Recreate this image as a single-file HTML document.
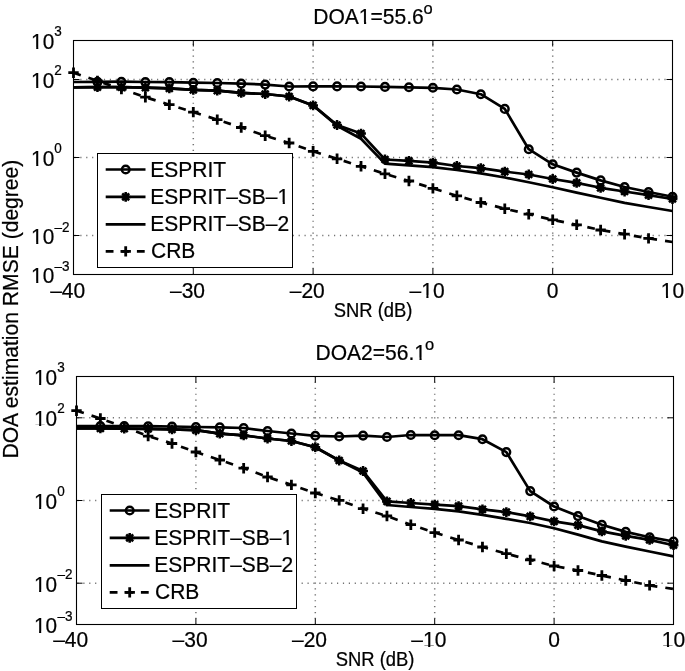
<!DOCTYPE html>
<html><head><meta charset="utf-8"><style>
html,body{margin:0;padding:0;background:#fff;}
svg{display:block;font-family:"Liberation Sans",sans-serif;will-change:transform;}
text{stroke:#000;stroke-width:0.22px;}
</style></head><body>
<svg width="685" height="671" viewBox="0 0 685 671">
<rect width="685" height="671" fill="#fff"/>
<g stroke="#000" stroke-width="1.5" stroke-dasharray="1.2 4.7" opacity="0.55"><line x1="193.3" y1="274.5" x2="193.3" y2="40.5" stroke-dashoffset="0.45"/><line x1="313.1" y1="274.5" x2="313.1" y2="40.5" stroke-dashoffset="0.45"/><line x1="432.9" y1="274.5" x2="432.9" y2="40.5" stroke-dashoffset="0.45"/><line x1="552.7" y1="274.5" x2="552.7" y2="40.5" stroke-dashoffset="0.45"/><line x1="73.5" y1="79.5" x2="672.5" y2="79.5" stroke-dashoffset="-0.9"/><line x1="73.5" y1="157.5" x2="672.5" y2="157.5" stroke-dashoffset="-0.9"/><line x1="73.5" y1="235.5" x2="672.5" y2="235.5" stroke-dashoffset="-0.9"/></g>
<path d="M193.3,274.5v-6M193.3,40.5v6M313.1,274.5v-6M313.1,40.5v6M432.9,274.5v-6M432.9,40.5v6M552.7,274.5v-6M552.7,40.5v6M73.5,79.5h6M672.5,79.5h-6M73.5,157.5h6M672.5,157.5h-6M73.5,235.5h6M672.5,235.5h-6" stroke="#000" stroke-width="1" fill="none"/>
<polyline points="73.50,87.30 97.46,87.20 121.42,87.20 145.38,87.70 169.34,88.30 193.30,89.80 217.26,90.70 241.22,92.90 265.18,94.00 289.14,96.50 313.10,105.40 337.06,125.80 361.02,138.80 384.98,163.60 408.94,165.30 432.90,167.20 456.86,170.00 480.82,173.30 504.78,177.50 528.74,182.20 552.70,187.30 576.66,192.60 600.62,197.80 624.58,202.90 648.54,207.00 672.50,211.00" fill="none" stroke="#000" stroke-width="2.7" stroke-linejoin="round" />
<polyline points="73.50,72.70 97.46,80.90 121.42,89.00 145.38,97.20 169.34,104.70 193.30,112.10 217.26,119.60 241.22,127.50 265.18,135.70 289.14,143.00 313.10,151.30 337.06,158.80 361.02,166.30 384.98,173.80 408.94,181.00 432.90,188.40 456.86,195.80 480.82,202.50 504.78,208.70 528.74,214.20 552.70,219.80 576.66,224.80 600.62,230.00 624.58,234.20 648.54,238.40 672.50,242.00" fill="none" stroke="#000" stroke-width="2.7" stroke-linejoin="round" stroke-dasharray="7.7 8.09" stroke-linejoin="miter" stroke-linecap="butt"/>
<polyline points="73.50,87.30 97.46,87.20 121.42,87.20 145.38,87.70 169.34,88.30 193.30,89.80 217.26,90.70 241.22,92.90 265.18,94.00 289.14,96.50 313.10,105.40 337.06,125.00 361.02,133.60 384.98,159.50 408.94,160.80 432.90,162.60 456.86,166.00 480.82,168.20 504.78,171.60 528.74,174.50 552.70,179.00 576.66,182.90 600.62,187.80 624.58,191.50 648.54,195.10 672.50,199.00" fill="none" stroke="#000" stroke-width="2.7" stroke-linejoin="round" />
<polyline points="73.50,82.00 97.46,81.80 121.42,81.70 145.38,82.00 169.34,82.10 193.30,82.70 217.26,83.00 241.22,83.60 265.18,84.60 289.14,86.50 313.10,86.40 337.06,86.40 361.02,86.50 384.98,86.90 408.94,87.30 432.90,87.80 456.86,89.50 480.82,94.20 504.78,108.90 528.74,149.20 552.70,164.30 576.66,172.60 600.62,180.40 624.58,187.00 648.54,192.00 672.50,196.70" fill="none" stroke="#000" stroke-width="2.7" stroke-linejoin="round" />
<path d="M68.30,72.70h10.40M73.50,67.50v10.40" stroke="#000" stroke-width="2.8" fill="none"/>
<path d="M92.26,80.90h10.40M97.46,75.70v10.40" stroke="#000" stroke-width="2.8" fill="none"/>
<path d="M116.22,89.00h10.40M121.42,83.80v10.40" stroke="#000" stroke-width="2.8" fill="none"/>
<path d="M140.18,97.20h10.40M145.38,92.00v10.40" stroke="#000" stroke-width="2.8" fill="none"/>
<path d="M164.14,104.70h10.40M169.34,99.50v10.40" stroke="#000" stroke-width="2.8" fill="none"/>
<path d="M188.10,112.10h10.40M193.30,106.90v10.40" stroke="#000" stroke-width="2.8" fill="none"/>
<path d="M212.06,119.60h10.40M217.26,114.40v10.40" stroke="#000" stroke-width="2.8" fill="none"/>
<path d="M236.02,127.50h10.40M241.22,122.30v10.40" stroke="#000" stroke-width="2.8" fill="none"/>
<path d="M259.98,135.70h10.40M265.18,130.50v10.40" stroke="#000" stroke-width="2.8" fill="none"/>
<path d="M283.94,143.00h10.40M289.14,137.80v10.40" stroke="#000" stroke-width="2.8" fill="none"/>
<path d="M307.90,151.30h10.40M313.10,146.10v10.40" stroke="#000" stroke-width="2.8" fill="none"/>
<path d="M331.86,158.80h10.40M337.06,153.60v10.40" stroke="#000" stroke-width="2.8" fill="none"/>
<path d="M355.82,166.30h10.40M361.02,161.10v10.40" stroke="#000" stroke-width="2.8" fill="none"/>
<path d="M379.78,173.80h10.40M384.98,168.60v10.40" stroke="#000" stroke-width="2.8" fill="none"/>
<path d="M403.74,181.00h10.40M408.94,175.80v10.40" stroke="#000" stroke-width="2.8" fill="none"/>
<path d="M427.70,188.40h10.40M432.90,183.20v10.40" stroke="#000" stroke-width="2.8" fill="none"/>
<path d="M451.66,195.80h10.40M456.86,190.60v10.40" stroke="#000" stroke-width="2.8" fill="none"/>
<path d="M475.62,202.50h10.40M480.82,197.30v10.40" stroke="#000" stroke-width="2.8" fill="none"/>
<path d="M499.58,208.70h10.40M504.78,203.50v10.40" stroke="#000" stroke-width="2.8" fill="none"/>
<path d="M523.54,214.20h10.40M528.74,209.00v10.40" stroke="#000" stroke-width="2.8" fill="none"/>
<path d="M547.50,219.80h10.40M552.70,214.60v10.40" stroke="#000" stroke-width="2.8" fill="none"/>
<path d="M571.46,224.80h10.40M576.66,219.60v10.40" stroke="#000" stroke-width="2.8" fill="none"/>
<path d="M595.42,230.00h10.40M600.62,224.80v10.40" stroke="#000" stroke-width="2.8" fill="none"/>
<path d="M619.38,234.20h10.40M624.58,229.00v10.40" stroke="#000" stroke-width="2.8" fill="none"/>
<path d="M643.34,238.40h10.40M648.54,233.20v10.40" stroke="#000" stroke-width="2.8" fill="none"/>
<path d="M92.56,87.20h9.80M97.46,82.30v9.80M94.00,83.74l6.93,6.93M94.00,90.66l6.93,-6.93" stroke="#000" stroke-width="2.5" fill="none"/><circle cx="97.46" cy="87.20" r="3.5"/>
<path d="M116.52,87.20h9.80M121.42,82.30v9.80M117.96,83.74l6.93,6.93M117.96,90.66l6.93,-6.93" stroke="#000" stroke-width="2.5" fill="none"/><circle cx="121.42" cy="87.20" r="3.5"/>
<path d="M140.48,87.70h9.80M145.38,82.80v9.80M141.92,84.24l6.93,6.93M141.92,91.16l6.93,-6.93" stroke="#000" stroke-width="2.5" fill="none"/><circle cx="145.38" cy="87.70" r="3.5"/>
<path d="M164.44,88.30h9.80M169.34,83.40v9.80M165.88,84.84l6.93,6.93M165.88,91.76l6.93,-6.93" stroke="#000" stroke-width="2.5" fill="none"/><circle cx="169.34" cy="88.30" r="3.5"/>
<path d="M188.40,89.80h9.80M193.30,84.90v9.80M189.84,86.34l6.93,6.93M189.84,93.26l6.93,-6.93" stroke="#000" stroke-width="2.5" fill="none"/><circle cx="193.30" cy="89.80" r="3.5"/>
<path d="M212.36,90.70h9.80M217.26,85.80v9.80M213.80,87.24l6.93,6.93M213.80,94.16l6.93,-6.93" stroke="#000" stroke-width="2.5" fill="none"/><circle cx="217.26" cy="90.70" r="3.5"/>
<path d="M236.32,92.90h9.80M241.22,88.00v9.80M237.76,89.44l6.93,6.93M237.76,96.36l6.93,-6.93" stroke="#000" stroke-width="2.5" fill="none"/><circle cx="241.22" cy="92.90" r="3.5"/>
<path d="M260.28,94.00h9.80M265.18,89.10v9.80M261.72,90.54l6.93,6.93M261.72,97.46l6.93,-6.93" stroke="#000" stroke-width="2.5" fill="none"/><circle cx="265.18" cy="94.00" r="3.5"/>
<path d="M284.24,96.50h9.80M289.14,91.60v9.80M285.68,93.04l6.93,6.93M285.68,99.96l6.93,-6.93" stroke="#000" stroke-width="2.5" fill="none"/><circle cx="289.14" cy="96.50" r="3.5"/>
<path d="M308.20,105.40h9.80M313.10,100.50v9.80M309.64,101.94l6.93,6.93M309.64,108.86l6.93,-6.93" stroke="#000" stroke-width="2.5" fill="none"/><circle cx="313.10" cy="105.40" r="3.5"/>
<path d="M332.16,125.00h9.80M337.06,120.10v9.80M333.60,121.54l6.93,6.93M333.60,128.46l6.93,-6.93" stroke="#000" stroke-width="2.5" fill="none"/><circle cx="337.06" cy="125.00" r="3.5"/>
<path d="M356.12,133.60h9.80M361.02,128.70v9.80M357.56,130.14l6.93,6.93M357.56,137.06l6.93,-6.93" stroke="#000" stroke-width="2.5" fill="none"/><circle cx="361.02" cy="133.60" r="3.5"/>
<path d="M380.08,159.50h9.80M384.98,154.60v9.80M381.52,156.04l6.93,6.93M381.52,162.96l6.93,-6.93" stroke="#000" stroke-width="2.5" fill="none"/><circle cx="384.98" cy="159.50" r="3.5"/>
<path d="M404.04,160.80h9.80M408.94,155.90v9.80M405.48,157.34l6.93,6.93M405.48,164.26l6.93,-6.93" stroke="#000" stroke-width="2.5" fill="none"/><circle cx="408.94" cy="160.80" r="3.5"/>
<path d="M428.00,162.60h9.80M432.90,157.70v9.80M429.44,159.14l6.93,6.93M429.44,166.06l6.93,-6.93" stroke="#000" stroke-width="2.5" fill="none"/><circle cx="432.90" cy="162.60" r="3.5"/>
<path d="M451.96,166.00h9.80M456.86,161.10v9.80M453.40,162.54l6.93,6.93M453.40,169.46l6.93,-6.93" stroke="#000" stroke-width="2.5" fill="none"/><circle cx="456.86" cy="166.00" r="3.5"/>
<path d="M475.92,168.20h9.80M480.82,163.30v9.80M477.36,164.74l6.93,6.93M477.36,171.66l6.93,-6.93" stroke="#000" stroke-width="2.5" fill="none"/><circle cx="480.82" cy="168.20" r="3.5"/>
<path d="M499.88,171.60h9.80M504.78,166.70v9.80M501.32,168.14l6.93,6.93M501.32,175.06l6.93,-6.93" stroke="#000" stroke-width="2.5" fill="none"/><circle cx="504.78" cy="171.60" r="3.5"/>
<path d="M523.84,174.50h9.80M528.74,169.60v9.80M525.28,171.04l6.93,6.93M525.28,177.96l6.93,-6.93" stroke="#000" stroke-width="2.5" fill="none"/><circle cx="528.74" cy="174.50" r="3.5"/>
<path d="M547.80,179.00h9.80M552.70,174.10v9.80M549.24,175.54l6.93,6.93M549.24,182.46l6.93,-6.93" stroke="#000" stroke-width="2.5" fill="none"/><circle cx="552.70" cy="179.00" r="3.5"/>
<path d="M571.76,182.90h9.80M576.66,178.00v9.80M573.20,179.44l6.93,6.93M573.20,186.36l6.93,-6.93" stroke="#000" stroke-width="2.5" fill="none"/><circle cx="576.66" cy="182.90" r="3.5"/>
<path d="M595.72,187.80h9.80M600.62,182.90v9.80M597.16,184.34l6.93,6.93M597.16,191.26l6.93,-6.93" stroke="#000" stroke-width="2.5" fill="none"/><circle cx="600.62" cy="187.80" r="3.5"/>
<path d="M619.68,191.50h9.80M624.58,186.60v9.80M621.12,188.04l6.93,6.93M621.12,194.96l6.93,-6.93" stroke="#000" stroke-width="2.5" fill="none"/><circle cx="624.58" cy="191.50" r="3.5"/>
<path d="M643.64,195.10h9.80M648.54,190.20v9.80M645.08,191.64l6.93,6.93M645.08,198.56l6.93,-6.93" stroke="#000" stroke-width="2.5" fill="none"/><circle cx="648.54" cy="195.10" r="3.5"/>
<path d="M667.60,199.00h9.80M672.50,194.10v9.80M669.04,195.54l6.93,6.93M669.04,202.46l6.93,-6.93" stroke="#000" stroke-width="2.5" fill="none"/><circle cx="672.50" cy="199.00" r="3.5"/>
<circle cx="97.46" cy="81.80" r="3.8" fill="none" stroke="#000" stroke-width="2.5"/>
<circle cx="121.42" cy="81.70" r="3.8" fill="none" stroke="#000" stroke-width="2.5"/>
<circle cx="145.38" cy="82.00" r="3.8" fill="none" stroke="#000" stroke-width="2.5"/>
<circle cx="169.34" cy="82.10" r="3.8" fill="none" stroke="#000" stroke-width="2.5"/>
<circle cx="193.30" cy="82.70" r="3.8" fill="none" stroke="#000" stroke-width="2.5"/>
<circle cx="217.26" cy="83.00" r="3.8" fill="none" stroke="#000" stroke-width="2.5"/>
<circle cx="241.22" cy="83.60" r="3.8" fill="none" stroke="#000" stroke-width="2.5"/>
<circle cx="265.18" cy="84.60" r="3.8" fill="none" stroke="#000" stroke-width="2.5"/>
<circle cx="289.14" cy="86.50" r="3.8" fill="none" stroke="#000" stroke-width="2.5"/>
<circle cx="313.10" cy="86.40" r="3.8" fill="none" stroke="#000" stroke-width="2.5"/>
<circle cx="337.06" cy="86.40" r="3.8" fill="none" stroke="#000" stroke-width="2.5"/>
<circle cx="361.02" cy="86.50" r="3.8" fill="none" stroke="#000" stroke-width="2.5"/>
<circle cx="384.98" cy="86.90" r="3.8" fill="none" stroke="#000" stroke-width="2.5"/>
<circle cx="408.94" cy="87.30" r="3.8" fill="none" stroke="#000" stroke-width="2.5"/>
<circle cx="432.90" cy="87.80" r="3.8" fill="none" stroke="#000" stroke-width="2.5"/>
<circle cx="456.86" cy="89.50" r="3.8" fill="none" stroke="#000" stroke-width="2.5"/>
<circle cx="480.82" cy="94.20" r="3.8" fill="none" stroke="#000" stroke-width="2.5"/>
<circle cx="504.78" cy="108.90" r="3.8" fill="none" stroke="#000" stroke-width="2.5"/>
<circle cx="528.74" cy="149.20" r="3.8" fill="none" stroke="#000" stroke-width="2.5"/>
<circle cx="552.70" cy="164.30" r="3.8" fill="none" stroke="#000" stroke-width="2.5"/>
<circle cx="576.66" cy="172.60" r="3.8" fill="none" stroke="#000" stroke-width="2.5"/>
<circle cx="600.62" cy="180.40" r="3.8" fill="none" stroke="#000" stroke-width="2.5"/>
<circle cx="624.58" cy="187.00" r="3.8" fill="none" stroke="#000" stroke-width="2.5"/>
<circle cx="648.54" cy="192.00" r="3.8" fill="none" stroke="#000" stroke-width="2.5"/>
<circle cx="672.50" cy="196.70" r="3.8" fill="none" stroke="#000" stroke-width="2.5"/>
<rect x="97.5" y="153.5" width="195" height="114" fill="#fff" stroke="#000" stroke-width="1"/>
<line x1="105.7" y1="169.5" x2="145.5" y2="169.5" stroke="#000" stroke-width="2.7"/>
<circle cx="125.70" cy="169.50" r="3.8" fill="none" stroke="#000" stroke-width="2.5"/>
<text transform="translate(150.37,176.50) scale(1,1.05)" font-size="21">ESPRIT</text>
<line x1="105.7" y1="196.9" x2="145.5" y2="196.9" stroke="#000" stroke-width="2.7"/>
<path d="M120.80,196.90h9.80M125.70,192.00v9.80M122.24,193.44l6.93,6.93M122.24,200.36l6.93,-6.93" stroke="#000" stroke-width="2.5" fill="none"/><circle cx="125.70" cy="196.90" r="3.5"/>
<text transform="translate(150.37,203.90) scale(1,1.05)" font-size="21">ESPRIT&#8211;SB&#8211;1</text>
<line x1="105.7" y1="224.3" x2="145.5" y2="224.3" stroke="#000" stroke-width="2.7"/>
<text transform="translate(150.37,231.30) scale(1,1.05)" font-size="21">ESPRIT&#8211;SB&#8211;2</text>
<line x1="105.7" y1="251.4" x2="145.5" y2="251.4" stroke="#000" stroke-width="2.7" stroke-dasharray="7.8 7.8"/>
<path d="M120.50,251.40h10.40M125.70,246.20v10.40" stroke="#000" stroke-width="2.8" fill="none"/>
<text transform="translate(151.05,258.40) scale(1,1.05)" font-size="21">CRB</text>
<rect x="73.5" y="40.5" width="599.0" height="234.0" fill="none" stroke="#000" stroke-width="1.1"/>
<text transform="translate(31.10,48.90) scale(1,1.05)" font-size="20.8">10<tspan dx="0.0" dy="-12.75" font-size="13.5">3</tspan></text>
<text transform="translate(31.10,87.90) scale(1,1.05)" font-size="20.8">10<tspan dx="0.0" dy="-12.75" font-size="13.5">2</tspan></text>
<text transform="translate(31.10,165.90) scale(1,1.05)" font-size="20.8">10<tspan dx="0.0" dy="-12.75" font-size="13.5">0</tspan></text>
<text transform="translate(31.10,243.90) scale(1,1.05)" font-size="20.8">10<tspan dx="0.3" dy="-11.8" font-size="13.5">&#8211;2</tspan></text>
<text transform="translate(31.10,282.90) scale(1,1.05)" font-size="20.8">10<tspan dx="0.3" dy="-11.8" font-size="13.5">&#8211;3</tspan></text>
<text transform="translate(85.18,297.50) scale(1,1.05)" font-size="21" text-anchor="end">&#8211;40</text>
<text transform="translate(204.98,297.50) scale(1,1.05)" font-size="21" text-anchor="end">&#8211;30</text>
<text transform="translate(324.78,297.50) scale(1,1.05)" font-size="21" text-anchor="end">&#8211;20</text>
<text transform="translate(444.58,297.50) scale(1,1.05)" font-size="21" text-anchor="end">&#8211;10</text>
<text transform="translate(558.54,297.50) scale(1,1.05)" font-size="21" text-anchor="end">0</text>
<text transform="translate(684.18,297.50) scale(1,1.05)" font-size="21" text-anchor="end">10</text>
<text transform="translate(313.26,23.80) scale(1,1.05)" font-size="21.05">DOA1=55.6</text>
<text transform="translate(423.40,14.40) scale(1,1.05)" font-size="16.5">o</text>
<text transform="translate(333.70,317.20) scale(1,1.05)" font-size="18.4">SNR (dB)</text>
<g stroke="#000" stroke-width="1.5" stroke-dasharray="1.2 4.7" opacity="0.55"><line x1="195.9" y1="624.5" x2="195.9" y2="376.5" stroke-dashoffset="0.45"/><line x1="315.3" y1="624.5" x2="315.3" y2="376.5" stroke-dashoffset="0.45"/><line x1="434.7" y1="624.5" x2="434.7" y2="376.5" stroke-dashoffset="0.45"/><line x1="554.1" y1="624.5" x2="554.1" y2="376.5" stroke-dashoffset="0.45"/><line x1="76.5" y1="417.8" x2="673.5" y2="417.8" stroke-dashoffset="-0.9"/><line x1="76.5" y1="500.5" x2="673.5" y2="500.5" stroke-dashoffset="-0.9"/><line x1="76.5" y1="583.2" x2="673.5" y2="583.2" stroke-dashoffset="-0.9"/></g>
<path d="M195.9,624.5v-6M195.9,376.5v6M315.3,624.5v-6M315.3,376.5v6M434.7,624.5v-6M434.7,376.5v6M554.1,624.5v-6M554.1,376.5v6M76.5,417.8h6M673.5,417.8h-6M76.5,500.5h6M673.5,500.5h-6M76.5,583.2h6M673.5,583.2h-6" stroke="#000" stroke-width="1" fill="none"/>
<polyline points="76.50,428.30 100.38,428.40 124.26,428.60 148.14,428.90 172.02,429.30 195.90,430.10 219.78,433.60 243.66,435.40 267.54,438.50 291.42,441.00 315.30,447.20 339.18,460.50 363.06,472.60 386.94,505.00 410.82,507.00 434.70,508.80 458.58,511.40 482.46,514.80 506.34,518.80 530.22,523.00 554.10,528.20 577.98,534.60 601.86,541.40 625.74,546.60 649.62,551.50 673.50,556.40" fill="none" stroke="#000" stroke-width="2.7" stroke-linejoin="round" />
<polyline points="76.50,410.70 100.38,418.50 124.26,427.00 148.14,436.10 172.02,443.50 195.90,452.00 219.78,460.00 243.66,468.20 267.54,477.00 291.42,484.90 315.30,493.00 339.18,500.40 363.06,508.70 386.94,516.00 410.82,524.70 434.70,532.60 458.58,540.00 482.46,547.00 506.34,553.70 530.22,559.90 554.10,566.00 577.98,570.50 601.86,575.50 625.74,580.50 649.62,585.40 673.50,589.00" fill="none" stroke="#000" stroke-width="2.7" stroke-linejoin="round" stroke-dasharray="7.7 8.09" stroke-linejoin="miter" stroke-linecap="butt"/>
<polyline points="76.50,428.30 100.38,428.40 124.26,428.60 148.14,428.90 172.02,429.30 195.90,430.10 219.78,433.60 243.66,435.40 267.54,438.50 291.42,441.00 315.30,447.20 339.18,460.50 363.06,471.00 386.94,501.40 410.82,503.00 434.70,504.60 458.58,506.10 482.46,509.30 506.34,512.20 530.22,516.30 554.10,521.40 577.98,525.10 601.86,531.40 625.74,535.90 649.62,539.90 673.50,545.20" fill="none" stroke="#000" stroke-width="2.7" stroke-linejoin="round" />
<polyline points="76.50,426.20 100.38,426.10 124.26,426.10 148.14,426.20 172.02,426.50 195.90,427.00 219.78,427.40 243.66,428.00 267.54,431.00 291.42,433.50 315.30,435.80 339.18,436.50 363.06,435.60 386.94,437.00 410.82,435.00 434.70,435.20 458.58,435.20 482.46,439.20 506.34,452.10 530.22,491.10 554.10,506.50 577.98,516.10 601.86,524.70 625.74,531.90 649.62,537.20 673.50,541.50" fill="none" stroke="#000" stroke-width="2.7" stroke-linejoin="round" />
<path d="M71.30,410.70h10.40M76.50,405.50v10.40" stroke="#000" stroke-width="2.8" fill="none"/>
<path d="M95.18,418.50h10.40M100.38,413.30v10.40" stroke="#000" stroke-width="2.8" fill="none"/>
<path d="M119.06,427.00h10.40M124.26,421.80v10.40" stroke="#000" stroke-width="2.8" fill="none"/>
<path d="M142.94,436.10h10.40M148.14,430.90v10.40" stroke="#000" stroke-width="2.8" fill="none"/>
<path d="M166.82,443.50h10.40M172.02,438.30v10.40" stroke="#000" stroke-width="2.8" fill="none"/>
<path d="M190.70,452.00h10.40M195.90,446.80v10.40" stroke="#000" stroke-width="2.8" fill="none"/>
<path d="M214.58,460.00h10.40M219.78,454.80v10.40" stroke="#000" stroke-width="2.8" fill="none"/>
<path d="M238.46,468.20h10.40M243.66,463.00v10.40" stroke="#000" stroke-width="2.8" fill="none"/>
<path d="M262.34,477.00h10.40M267.54,471.80v10.40" stroke="#000" stroke-width="2.8" fill="none"/>
<path d="M286.22,484.90h10.40M291.42,479.70v10.40" stroke="#000" stroke-width="2.8" fill="none"/>
<path d="M310.10,493.00h10.40M315.30,487.80v10.40" stroke="#000" stroke-width="2.8" fill="none"/>
<path d="M333.98,500.40h10.40M339.18,495.20v10.40" stroke="#000" stroke-width="2.8" fill="none"/>
<path d="M357.86,508.70h10.40M363.06,503.50v10.40" stroke="#000" stroke-width="2.8" fill="none"/>
<path d="M381.74,516.00h10.40M386.94,510.80v10.40" stroke="#000" stroke-width="2.8" fill="none"/>
<path d="M405.62,524.70h10.40M410.82,519.50v10.40" stroke="#000" stroke-width="2.8" fill="none"/>
<path d="M429.50,532.60h10.40M434.70,527.40v10.40" stroke="#000" stroke-width="2.8" fill="none"/>
<path d="M453.38,540.00h10.40M458.58,534.80v10.40" stroke="#000" stroke-width="2.8" fill="none"/>
<path d="M477.26,547.00h10.40M482.46,541.80v10.40" stroke="#000" stroke-width="2.8" fill="none"/>
<path d="M501.14,553.70h10.40M506.34,548.50v10.40" stroke="#000" stroke-width="2.8" fill="none"/>
<path d="M525.02,559.90h10.40M530.22,554.70v10.40" stroke="#000" stroke-width="2.8" fill="none"/>
<path d="M548.90,566.00h10.40M554.10,560.80v10.40" stroke="#000" stroke-width="2.8" fill="none"/>
<path d="M572.78,570.50h10.40M577.98,565.30v10.40" stroke="#000" stroke-width="2.8" fill="none"/>
<path d="M596.66,575.50h10.40M601.86,570.30v10.40" stroke="#000" stroke-width="2.8" fill="none"/>
<path d="M620.54,580.50h10.40M625.74,575.30v10.40" stroke="#000" stroke-width="2.8" fill="none"/>
<path d="M644.42,585.40h10.40M649.62,580.20v10.40" stroke="#000" stroke-width="2.8" fill="none"/>
<path d="M95.48,428.40h9.80M100.38,423.50v9.80M96.92,424.94l6.93,6.93M96.92,431.86l6.93,-6.93" stroke="#000" stroke-width="2.5" fill="none"/><circle cx="100.38" cy="428.40" r="3.5"/>
<path d="M119.36,428.60h9.80M124.26,423.70v9.80M120.80,425.14l6.93,6.93M120.80,432.06l6.93,-6.93" stroke="#000" stroke-width="2.5" fill="none"/><circle cx="124.26" cy="428.60" r="3.5"/>
<path d="M143.24,428.90h9.80M148.14,424.00v9.80M144.68,425.44l6.93,6.93M144.68,432.36l6.93,-6.93" stroke="#000" stroke-width="2.5" fill="none"/><circle cx="148.14" cy="428.90" r="3.5"/>
<path d="M167.12,429.30h9.80M172.02,424.40v9.80M168.56,425.84l6.93,6.93M168.56,432.76l6.93,-6.93" stroke="#000" stroke-width="2.5" fill="none"/><circle cx="172.02" cy="429.30" r="3.5"/>
<path d="M191.00,430.10h9.80M195.90,425.20v9.80M192.44,426.64l6.93,6.93M192.44,433.56l6.93,-6.93" stroke="#000" stroke-width="2.5" fill="none"/><circle cx="195.90" cy="430.10" r="3.5"/>
<path d="M214.88,433.60h9.80M219.78,428.70v9.80M216.32,430.14l6.93,6.93M216.32,437.06l6.93,-6.93" stroke="#000" stroke-width="2.5" fill="none"/><circle cx="219.78" cy="433.60" r="3.5"/>
<path d="M238.76,435.40h9.80M243.66,430.50v9.80M240.20,431.94l6.93,6.93M240.20,438.86l6.93,-6.93" stroke="#000" stroke-width="2.5" fill="none"/><circle cx="243.66" cy="435.40" r="3.5"/>
<path d="M262.64,438.50h9.80M267.54,433.60v9.80M264.08,435.04l6.93,6.93M264.08,441.96l6.93,-6.93" stroke="#000" stroke-width="2.5" fill="none"/><circle cx="267.54" cy="438.50" r="3.5"/>
<path d="M286.52,441.00h9.80M291.42,436.10v9.80M287.96,437.54l6.93,6.93M287.96,444.46l6.93,-6.93" stroke="#000" stroke-width="2.5" fill="none"/><circle cx="291.42" cy="441.00" r="3.5"/>
<path d="M310.40,447.20h9.80M315.30,442.30v9.80M311.84,443.74l6.93,6.93M311.84,450.66l6.93,-6.93" stroke="#000" stroke-width="2.5" fill="none"/><circle cx="315.30" cy="447.20" r="3.5"/>
<path d="M334.28,460.50h9.80M339.18,455.60v9.80M335.72,457.04l6.93,6.93M335.72,463.96l6.93,-6.93" stroke="#000" stroke-width="2.5" fill="none"/><circle cx="339.18" cy="460.50" r="3.5"/>
<path d="M358.16,471.00h9.80M363.06,466.10v9.80M359.60,467.54l6.93,6.93M359.60,474.46l6.93,-6.93" stroke="#000" stroke-width="2.5" fill="none"/><circle cx="363.06" cy="471.00" r="3.5"/>
<path d="M382.04,501.40h9.80M386.94,496.50v9.80M383.48,497.94l6.93,6.93M383.48,504.86l6.93,-6.93" stroke="#000" stroke-width="2.5" fill="none"/><circle cx="386.94" cy="501.40" r="3.5"/>
<path d="M405.92,503.00h9.80M410.82,498.10v9.80M407.36,499.54l6.93,6.93M407.36,506.46l6.93,-6.93" stroke="#000" stroke-width="2.5" fill="none"/><circle cx="410.82" cy="503.00" r="3.5"/>
<path d="M429.80,504.60h9.80M434.70,499.70v9.80M431.24,501.14l6.93,6.93M431.24,508.06l6.93,-6.93" stroke="#000" stroke-width="2.5" fill="none"/><circle cx="434.70" cy="504.60" r="3.5"/>
<path d="M453.68,506.10h9.80M458.58,501.20v9.80M455.12,502.64l6.93,6.93M455.12,509.56l6.93,-6.93" stroke="#000" stroke-width="2.5" fill="none"/><circle cx="458.58" cy="506.10" r="3.5"/>
<path d="M477.56,509.30h9.80M482.46,504.40v9.80M479.00,505.84l6.93,6.93M479.00,512.76l6.93,-6.93" stroke="#000" stroke-width="2.5" fill="none"/><circle cx="482.46" cy="509.30" r="3.5"/>
<path d="M501.44,512.20h9.80M506.34,507.30v9.80M502.88,508.74l6.93,6.93M502.88,515.66l6.93,-6.93" stroke="#000" stroke-width="2.5" fill="none"/><circle cx="506.34" cy="512.20" r="3.5"/>
<path d="M525.32,516.30h9.80M530.22,511.40v9.80M526.76,512.84l6.93,6.93M526.76,519.76l6.93,-6.93" stroke="#000" stroke-width="2.5" fill="none"/><circle cx="530.22" cy="516.30" r="3.5"/>
<path d="M549.20,521.40h9.80M554.10,516.50v9.80M550.64,517.94l6.93,6.93M550.64,524.86l6.93,-6.93" stroke="#000" stroke-width="2.5" fill="none"/><circle cx="554.10" cy="521.40" r="3.5"/>
<path d="M573.08,525.10h9.80M577.98,520.20v9.80M574.52,521.64l6.93,6.93M574.52,528.56l6.93,-6.93" stroke="#000" stroke-width="2.5" fill="none"/><circle cx="577.98" cy="525.10" r="3.5"/>
<path d="M596.96,531.40h9.80M601.86,526.50v9.80M598.40,527.94l6.93,6.93M598.40,534.86l6.93,-6.93" stroke="#000" stroke-width="2.5" fill="none"/><circle cx="601.86" cy="531.40" r="3.5"/>
<path d="M620.84,535.90h9.80M625.74,531.00v9.80M622.28,532.44l6.93,6.93M622.28,539.36l6.93,-6.93" stroke="#000" stroke-width="2.5" fill="none"/><circle cx="625.74" cy="535.90" r="3.5"/>
<path d="M644.72,539.90h9.80M649.62,535.00v9.80M646.16,536.44l6.93,6.93M646.16,543.36l6.93,-6.93" stroke="#000" stroke-width="2.5" fill="none"/><circle cx="649.62" cy="539.90" r="3.5"/>
<path d="M668.60,545.20h9.80M673.50,540.30v9.80M670.04,541.74l6.93,6.93M670.04,548.66l6.93,-6.93" stroke="#000" stroke-width="2.5" fill="none"/><circle cx="673.50" cy="545.20" r="3.5"/>
<circle cx="100.38" cy="426.10" r="3.8" fill="none" stroke="#000" stroke-width="2.5"/>
<circle cx="124.26" cy="426.10" r="3.8" fill="none" stroke="#000" stroke-width="2.5"/>
<circle cx="148.14" cy="426.20" r="3.8" fill="none" stroke="#000" stroke-width="2.5"/>
<circle cx="172.02" cy="426.50" r="3.8" fill="none" stroke="#000" stroke-width="2.5"/>
<circle cx="195.90" cy="427.00" r="3.8" fill="none" stroke="#000" stroke-width="2.5"/>
<circle cx="219.78" cy="427.40" r="3.8" fill="none" stroke="#000" stroke-width="2.5"/>
<circle cx="243.66" cy="428.00" r="3.8" fill="none" stroke="#000" stroke-width="2.5"/>
<circle cx="267.54" cy="431.00" r="3.8" fill="none" stroke="#000" stroke-width="2.5"/>
<circle cx="291.42" cy="433.50" r="3.8" fill="none" stroke="#000" stroke-width="2.5"/>
<circle cx="315.30" cy="435.80" r="3.8" fill="none" stroke="#000" stroke-width="2.5"/>
<circle cx="339.18" cy="436.50" r="3.8" fill="none" stroke="#000" stroke-width="2.5"/>
<circle cx="363.06" cy="435.60" r="3.8" fill="none" stroke="#000" stroke-width="2.5"/>
<circle cx="386.94" cy="437.00" r="3.8" fill="none" stroke="#000" stroke-width="2.5"/>
<circle cx="410.82" cy="435.00" r="3.8" fill="none" stroke="#000" stroke-width="2.5"/>
<circle cx="434.70" cy="435.20" r="3.8" fill="none" stroke="#000" stroke-width="2.5"/>
<circle cx="458.58" cy="435.20" r="3.8" fill="none" stroke="#000" stroke-width="2.5"/>
<circle cx="482.46" cy="439.20" r="3.8" fill="none" stroke="#000" stroke-width="2.5"/>
<circle cx="506.34" cy="452.10" r="3.8" fill="none" stroke="#000" stroke-width="2.5"/>
<circle cx="530.22" cy="491.10" r="3.8" fill="none" stroke="#000" stroke-width="2.5"/>
<circle cx="554.10" cy="506.50" r="3.8" fill="none" stroke="#000" stroke-width="2.5"/>
<circle cx="577.98" cy="516.10" r="3.8" fill="none" stroke="#000" stroke-width="2.5"/>
<circle cx="601.86" cy="524.70" r="3.8" fill="none" stroke="#000" stroke-width="2.5"/>
<circle cx="625.74" cy="531.90" r="3.8" fill="none" stroke="#000" stroke-width="2.5"/>
<circle cx="649.62" cy="537.20" r="3.8" fill="none" stroke="#000" stroke-width="2.5"/>
<circle cx="673.50" cy="541.50" r="3.8" fill="none" stroke="#000" stroke-width="2.5"/>
<rect x="101.5" y="494.5" width="195" height="114" fill="#fff" stroke="#000" stroke-width="1"/>
<line x1="109.7" y1="510.5" x2="149.5" y2="510.5" stroke="#000" stroke-width="2.7"/>
<circle cx="129.70" cy="510.50" r="3.8" fill="none" stroke="#000" stroke-width="2.5"/>
<text transform="translate(154.37,517.50) scale(1,1.05)" font-size="21">ESPRIT</text>
<line x1="109.7" y1="537.9" x2="149.5" y2="537.9" stroke="#000" stroke-width="2.7"/>
<path d="M124.80,537.90h9.80M129.70,533.00v9.80M126.24,534.44l6.93,6.93M126.24,541.36l6.93,-6.93" stroke="#000" stroke-width="2.5" fill="none"/><circle cx="129.70" cy="537.90" r="3.5"/>
<text transform="translate(154.37,544.90) scale(1,1.05)" font-size="21">ESPRIT&#8211;SB&#8211;1</text>
<line x1="109.7" y1="565.3" x2="149.5" y2="565.3" stroke="#000" stroke-width="2.7"/>
<text transform="translate(154.37,572.30) scale(1,1.05)" font-size="21">ESPRIT&#8211;SB&#8211;2</text>
<line x1="109.7" y1="592.4" x2="149.5" y2="592.4" stroke="#000" stroke-width="2.7" stroke-dasharray="7.8 7.8"/>
<path d="M124.50,592.40h10.40M129.70,587.20v10.40" stroke="#000" stroke-width="2.8" fill="none"/>
<text transform="translate(155.05,599.40) scale(1,1.05)" font-size="21">CRB</text>
<rect x="76.5" y="376.5" width="597.0" height="248.0" fill="none" stroke="#000" stroke-width="1.1"/>
<text transform="translate(34.00,384.90) scale(1,1.05)" font-size="20.8">10<tspan dx="0.0" dy="-12.75" font-size="13.5">3</tspan></text>
<text transform="translate(34.00,426.23) scale(1,1.05)" font-size="20.8">10<tspan dx="0.0" dy="-12.75" font-size="13.5">2</tspan></text>
<text transform="translate(34.00,508.90) scale(1,1.05)" font-size="20.8">10<tspan dx="0.0" dy="-12.75" font-size="13.5">0</tspan></text>
<text transform="translate(34.00,591.57) scale(1,1.05)" font-size="20.8">10<tspan dx="0.3" dy="-11.8" font-size="13.5">&#8211;2</tspan></text>
<text transform="translate(34.00,632.90) scale(1,1.05)" font-size="20.8">10<tspan dx="0.3" dy="-11.8" font-size="13.5">&#8211;3</tspan></text>
<text transform="translate(88.18,647.30) scale(1,1.05)" font-size="21" text-anchor="end">&#8211;40</text>
<text transform="translate(207.58,647.30) scale(1,1.05)" font-size="21" text-anchor="end">&#8211;30</text>
<text transform="translate(326.98,647.30) scale(1,1.05)" font-size="21" text-anchor="end">&#8211;20</text>
<text transform="translate(446.38,647.30) scale(1,1.05)" font-size="21" text-anchor="end">&#8211;10</text>
<text transform="translate(559.94,647.30) scale(1,1.05)" font-size="21" text-anchor="end">0</text>
<text transform="translate(685.18,647.30) scale(1,1.05)" font-size="21" text-anchor="end">10</text>
<text transform="translate(315.46,359.60) scale(1,1.05)" font-size="21.05">DOA2=56.1</text>
<text transform="translate(425.00,350.30) scale(1,1.05)" font-size="16.5">o</text>
<text transform="translate(335.70,666.30) scale(1,1.05)" font-size="18.4">SNR (dB)</text>
<text transform="translate(17.9,309.1) rotate(-90) scale(1,1.05)" font-size="21.1" text-anchor="middle">DOA estimation RMSE (degree)</text>
<path transform="translate(150.37,203.90) scale(1,1.05)" fill="#fff" d="M127.86,-1.82H132.37V0.6H127.86ZM134.49,-1.82H138.64V0.6H134.49Z"/>
<path transform="translate(31.10,48.90) scale(1,1.05)" fill="#fff" d="M0.62,-1.80H5.10V0.6H0.62ZM7.20,-1.80H11.31V0.6H7.20Z"/>
<path transform="translate(31.10,87.90) scale(1,1.05)" fill="#fff" d="M0.62,-1.80H5.10V0.6H0.62ZM7.20,-1.80H11.31V0.6H7.20Z"/>
<path transform="translate(31.10,165.90) scale(1,1.05)" fill="#fff" d="M0.62,-1.80H5.10V0.6H0.62ZM7.20,-1.80H11.31V0.6H7.20Z"/>
<path transform="translate(31.10,243.90) scale(1,1.05)" fill="#fff" d="M0.62,-1.80H5.10V0.6H0.62ZM7.20,-1.80H11.31V0.6H7.20Z"/>
<path transform="translate(31.10,282.90) scale(1,1.05)" fill="#fff" d="M0.62,-1.80H5.10V0.6H0.62ZM7.20,-1.80H11.31V0.6H7.20Z"/>
<path transform="translate(444.58,297.50) scale(1,1.05)" fill="#fff" d="M-22.72,-1.82H-18.21V0.6H-22.72ZM-16.09,-1.82H-11.94V0.6H-16.09Z"/>
<path transform="translate(684.18,297.50) scale(1,1.05)" fill="#fff" d="M-22.72,-1.82H-18.21V0.6H-22.72ZM-16.09,-1.82H-11.94V0.6H-16.09Z"/>
<path transform="translate(313.26,23.80) scale(1,1.05)" fill="#fff" d="M46.25,-1.82H50.78V0.6H46.25ZM52.90,-1.82H57.06V0.6H52.90Z"/>
<path transform="translate(154.37,544.90) scale(1,1.05)" fill="#fff" d="M127.86,-1.82H132.37V0.6H127.86ZM134.49,-1.82H138.64V0.6H134.49Z"/>
<path transform="translate(34.00,384.90) scale(1,1.05)" fill="#fff" d="M0.62,-1.80H5.10V0.6H0.62ZM7.20,-1.80H11.31V0.6H7.20Z"/>
<path transform="translate(34.00,426.23) scale(1,1.05)" fill="#fff" d="M0.62,-1.80H5.10V0.6H0.62ZM7.20,-1.80H11.31V0.6H7.20Z"/>
<path transform="translate(34.00,508.90) scale(1,1.05)" fill="#fff" d="M0.62,-1.80H5.10V0.6H0.62ZM7.20,-1.80H11.31V0.6H7.20Z"/>
<path transform="translate(34.00,591.57) scale(1,1.05)" fill="#fff" d="M0.62,-1.80H5.10V0.6H0.62ZM7.20,-1.80H11.31V0.6H7.20Z"/>
<path transform="translate(34.00,632.90) scale(1,1.05)" fill="#fff" d="M0.62,-1.80H5.10V0.6H0.62ZM7.20,-1.80H11.31V0.6H7.20Z"/>
<path transform="translate(446.38,647.30) scale(1,1.05)" fill="#fff" d="M-22.72,-1.82H-18.21V0.6H-22.72ZM-16.09,-1.82H-11.94V0.6H-16.09Z"/>
<path transform="translate(685.18,647.30) scale(1,1.05)" fill="#fff" d="M-22.72,-1.82H-18.21V0.6H-22.72ZM-16.09,-1.82H-11.94V0.6H-16.09Z"/>
<path transform="translate(315.46,359.60) scale(1,1.05)" fill="#fff" d="M99.52,-1.82H104.04V0.6H99.52ZM106.16,-1.82H110.32V0.6H106.16Z"/>
</svg></body></html>
